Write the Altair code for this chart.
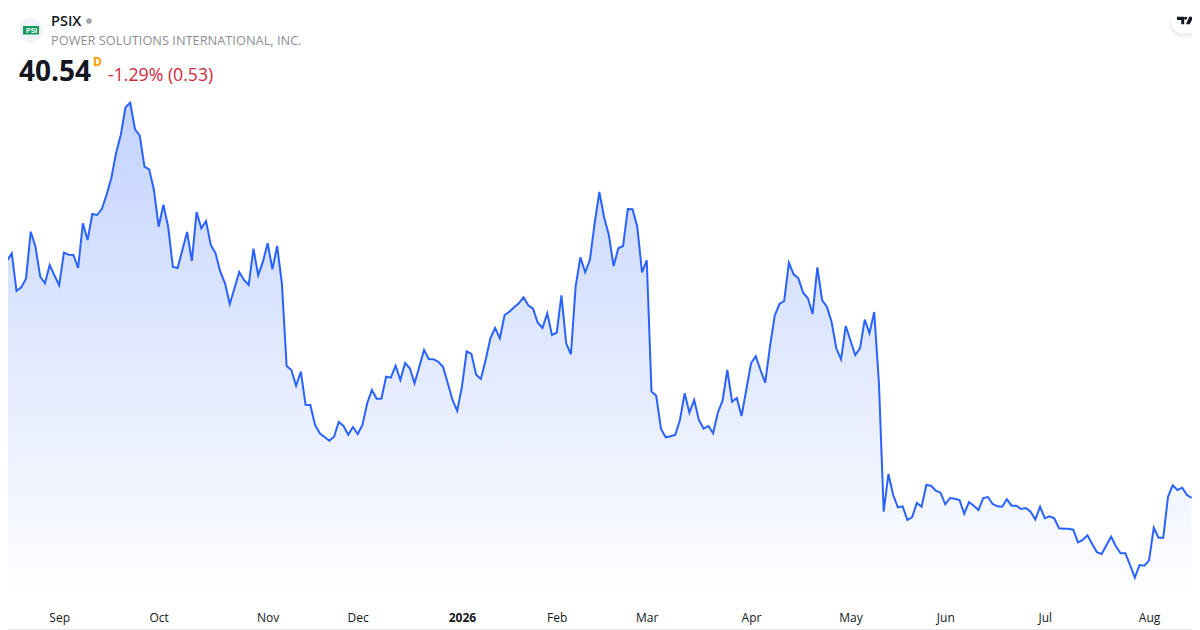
import altair as alt
import pandas as pd

prices = [
83.48,88.00,89.48,81.94,82.68,84.40,93.80,90.80,84.80,83.48,87.14,85.08,83.08,89.60,89.20,89.14,86.54,95.48,92.14,97.34,
97.14,98.34,101.14,104.48,109.48,113.14,118.68,119.60,114.28,113.08,106.80,106.28,102.14,94.80,99.20,94.80,86.74,86.54,90.14,93.74,
87.94,97.74,94.48,95.94,91.14,89.48,85.80,83.48,79.34,82.48,85.74,84.14,83.14,90.40,85.08,87.80,91.48,86.28,90.94,83.48,
66.94,66.14,63.00,65.80,59.20,59.14,55.14,53.48,52.74,52.00,52.80,55.74,54.94,53.20,54.74,53.34,55.14,59.48,62.14,60.40,
60.40,64.80,64.60,67.00,64.14,67.54,66.48,63.48,66.80,70.14,68.34,68.28,67.80,66.80,63.54,60.14,57.94,62.80,69.88,69.34,
65.20,64.34,68.14,72.48,74.54,72.48,77.14,77.80,78.68,79.48,80.68,79.08,78.40,75.60,74.54,77.48,73.14,73.60,81.08,71.48,
69.28,82.94,88.68,85.68,88.14,95.48,101.74,96.68,93.14,86.94,90.48,90.94,98.34,98.28,94.80,85.68,88.08,61.84,60.98,54.34,
52.68,52.88,53.14,56.14,61.48,57.60,60.14,56.14,54.40,54.94,53.48,57.60,60.00,66.14,59.80,60.54,56.94,62.14,67.48,68.88,
66.14,63.60,70.80,77.00,79.34,79.94,87.60,85.28,84.48,81.60,80.48,77.34,86.68,80.14,78.80,75.80,70.48,68.28,74.94,72.00,
69.14,70.48,76.20,73.48,77.74,63.48,37.80,45.34,41.14,38.68,38.88,36.14,36.74,39.54,38.80,43.14,43.00,42.00,41.60,39.28,
40.54,40.40,40.14,37.40,39.74,39.00,38.14,40.54,40.74,39.34,38.88,38.80,40.28,39.00,39.00,38.34,38.54,37.80,36.24,38.80,
36.48,36.88,36.48,34.48,34.40,34.40,34.20,31.68,32.14,33.08,31.34,29.68,29.34,31.08,32.80,30.88,29.48,29.48,27.14,24.60,
27.14,27.00,28.08,34.60,32.60,32.60,40.80,43.08,42.14,42.60,41.14,40.54,
]
session = list(range(len(prices)))
tick_sessions = [12, 33, 56, 75, 97, 117, 136, 158, 179, 199, 220, 242]
tick_labels = ["Sep", "Oct", "Nov", "Dec", "2026", "Feb", "Mar", "Apr", "May", "Jun", "Jul", "Aug"]

df = pd.DataFrame({"session": session, "price": prices})

label_map = "{" + ",".join(f"{s}:'{t}'" for s, t in zip(tick_sessions, tick_labels)) + "}"
x_enc = alt.X(
    "session:Q",
    scale=alt.Scale(domain=[0, 251], range=[-5.7, 1183.7]),
    axis=alt.Axis(
        values=tick_sessions, labelExpr=f"{label_map}[datum.value]", title=None,
        domain=False, ticks=False, grid=False, labelPadding=4, labelFontSize=12,
        labelFont="Open Sans", labelColor="#131722", labelAlign="center",
        labelFontWeight=alt.expr("datum.value == 97 ? 700 : 400"),
        labelOverlap=False, labelFlush=False,
    ),
)
y_enc = alt.Y("price:Q", stack=None, scale=alt.Scale(domain=[20, 130], range=[592.7, 42.7]), axis=None)

area = alt.Chart(df).mark_area(
    interpolate="linear",
    color=alt.Gradient(
        gradient="linear", x1=0, x2=0, y1=0, y2=1,
        stops=[alt.GradientStop(color="rgba(41,98,255,0.28)", offset=0),
               alt.GradientStop(color="rgba(41,98,255,0.0)", offset=1)],
    ),
).encode(x=x_enc, y=y_enc, y2=alt.datum(20))
line = alt.Chart(df).mark_line(color="#2962ff", strokeWidth=2, interpolate="linear").encode(x=x_enc, y=y_enc)


def one():
    return alt.Chart(pd.DataFrame({"k": [0]}))


def label(txt, x, y, **kw):
    return alt.Chart(pd.DataFrame({"t": [txt]})).mark_text(align="left", baseline="middle", **kw).encode(
        text="t:N", x=alt.value(x - 8), y=alt.value(y - 8))


def box(x0, x1, y0, y1, **kw):
    return one().mark_rect(**kw).encode(
        x=alt.value(x0 - 8), x2=alt.value(x1 - 8), y=alt.value(y0 - 8), y2=alt.value(y1 - 8))


def dot(x, y, size, **kw):
    return one().mark_point(filled=True, opacity=1, **kw).encode(
        x=alt.value(x - 8), y=alt.value(y - 8), size=alt.value(size))


font = "Open Sans"
layers = [
    area, line,
    box(8, 1192, 629, 630, color="#e6e8ee"),
    dot(31, 30, 590, color="#f0f3fa", shape="circle"),
    box(23, 39, 26, 34.5, color="#159a5b"),
    label("PSI", 26, 30.5, font="Liberation Sans", fontSize=7, fontWeight=700, color="#ffffff"),
    label("PSIX", 51, 21.5, font=font, fontSize=14.5, fontWeight=600, color="#131722"),
    dot(89, 21, 32, color="#a3a6af", shape="circle"),
    label("POWER SOLUTIONS INTERNATIONAL, INC.", 51, 40.5, font=font, fontSize=12.8, color="#8c8f98"),
    label("40.54", 19, 72.5, font=font, fontSize=28, fontWeight=700, color="#131722"),
    label("D", 93, 61.5, font=font, fontSize=12, fontWeight=700, color="#ff9800"),
    label("-1.29% (0.53)", 108, 75.5, font=font, fontSize=17.7, color="#d0273d"),
    box(1169, 1210, 12, 38, color="#000000", opacity=0.025, cornerRadius=13),
    box(1170, 1210, 11, 36, color="#000000", opacity=0.04, cornerRadius=12),
    box(1171, 1210, 10, 33, color="#ffffff", cornerRadius=11),
    dot(1185.5, 20.5, 289, color="#131722",
        shape="M-1,-0.45 H-0.15 V0.45 H-0.5 V-0.05 H-1 Z M0.02,-0.45 A0.17,0.17 0 1 1 0.02,-0.1 A0.17,0.17 0 1 1 0.02,-0.45 Z M0.45,-0.45 H0.95 L0.5,0.45 H0.05 Z"),
]

chart = alt.layer(*layers).properties(
    width=1184, height=600, background="#ffffff",
    padding={"left": 0, "top": 0, "right": 0, "bottom": 22},
    autosize=alt.AutoSizeParams(type="none"),
).configure_view(stroke=None)

chart.save("out.html", embed_options={"renderer": "svg", "actions": False})
